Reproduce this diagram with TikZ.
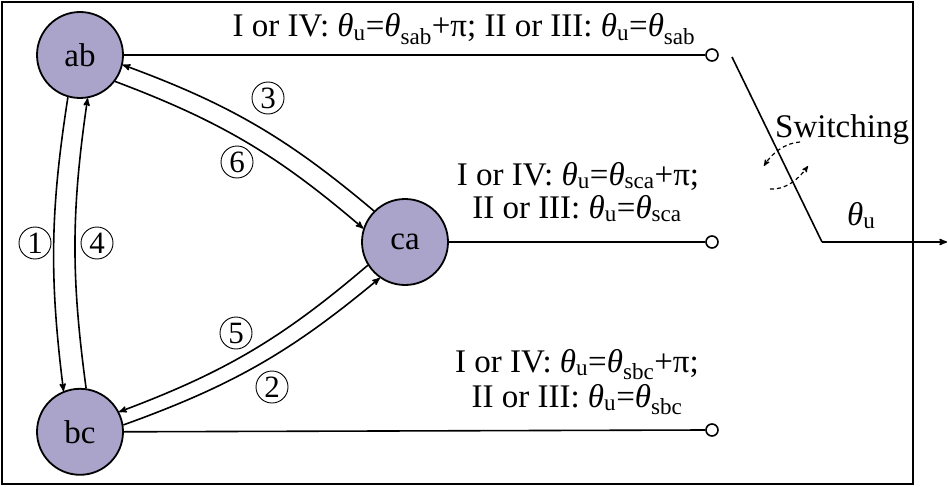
\documentclass[tikz,border=0pt]{standalone}
\usepackage{fontspec}
\setmainfont{Liberation Serif}
\usetikzlibrary{arrows,positioning}
\definecolor{phase}{RGB}{170,164,202}
\newcommand{\thu}{\textit{θ}\textsubscript{u}}
\newcommand{\ths}[1]{\textit{θ}\textsubscript{s#1}}

\begin{document}
\begin{tikzpicture}[x=1pt,y=1pt,
font=\fontsize{33}{33}\selectfont,
state/.style={circle, draw, line width=1.8pt, fill=phase, minimum size=86pt, inner sep=0pt},
term/.style={circle, draw, line width=1.6pt, fill=white, minimum size=12pt, inner sep=0pt},
trans/.style={->, line width=1.6pt, >=stealth'},
wire/.style={line width=1.6pt},
num/.style={circle, draw, line width=0.9pt, minimum size=32pt, inner sep=0pt, font=\fontsize{31}{31}\selectfont},
rule/.style={anchor=base, inner sep=0pt},
]
\useasboundingbox (0,0) rectangle (948,-487);
\draw[line width=2pt] (2,-2) rectangle (913,-484);

%Nodes
\node[state]   (ab)  at (80,-55)            {ab};
\node[state]   (bc)  [below=289pt of ab]    {bc};
\node[state]   (ca)  at (405,-242)          {ca};
\node[term]    (tab) at (712,-55)           {};
\node[term]    (tca) at (712,-242)          {};
\node[term]    (tbc) at (712,-430)          {};
\coordinate    (sw1) at (732,-57);
\coordinate    (sw2) at (822,-242);
\coordinate    (out) at (947,-242);

%Rules
\node[rule] (rab)  at (464,-37)  {I or IV: \thu=\ths{ab}+π; II or III: \thu=\ths{ab}};
\node[rule] (rca1) at (578,-185) {I or IV: \thu=\ths{ca}+π;};
\node[rule] (rca2) at (577,-218) {II or III: \thu=\ths{ca}};
\node[rule] (rbc1) at (577,-372) {I or IV: \thu=\ths{bc}+π;};
\node[rule] (rbc2) at (577,-407) {II or III: \thu=\ths{bc}};
\node[anchor=base west, inner sep=0pt] (swl) at (775,-137) {Switching};
\node[anchor=base west, inner sep=0pt] (outl) at (847,-225) {\thu};

%Lines
\draw[wire] (ab.east) -- (tab.west);
\draw[wire] (ca.east) -- (tca.west);
\draw[wire] (bc.east) -- (tbc.west);
\draw[wire] (sw1) -- (sw2);
\draw[trans] (sw2) -- (out);
\draw[->, >=stealth', line width=1.2pt, dash pattern=on 4pt off 3pt] (800,-142) .. controls (785,-143) and (772,-153) .. (764,-166);
\draw[->, >=stealth', line width=1.2pt, dash pattern=on 4pt off 3pt] (770,-189) .. controls (785,-190) and (798,-180) .. (808,-166);

%Transitions
\draw[trans] (ab.-106) to[bend right=8]  (bc.112);
\draw[trans] (bc.82)   to[bend left=8]   (ab.-80);
\draw[trans] (ca.135)  to[bend right=10] (ab.-13);
\draw[trans] (ab.-37)  to[bend left=10]  (ca.162);
\draw[trans] (ca.-148) to[bend left=10]  (bc.27);
\draw[trans] (bc.9)    to[bend right=10] (ca.-125);

%Labels
\node[num] (n1) at (35,-243)  {1};
\node[num] (n4) at (97,-243)  {4};
\node[num] (n3) at (268,-98)  {3};
\node[num] (n6) at (237,-162) {6};
\node[num] (n5) at (236,-333) {5};
\node[num] (n2) at (272,-387) {2};
\end{tikzpicture}
\end{document}
